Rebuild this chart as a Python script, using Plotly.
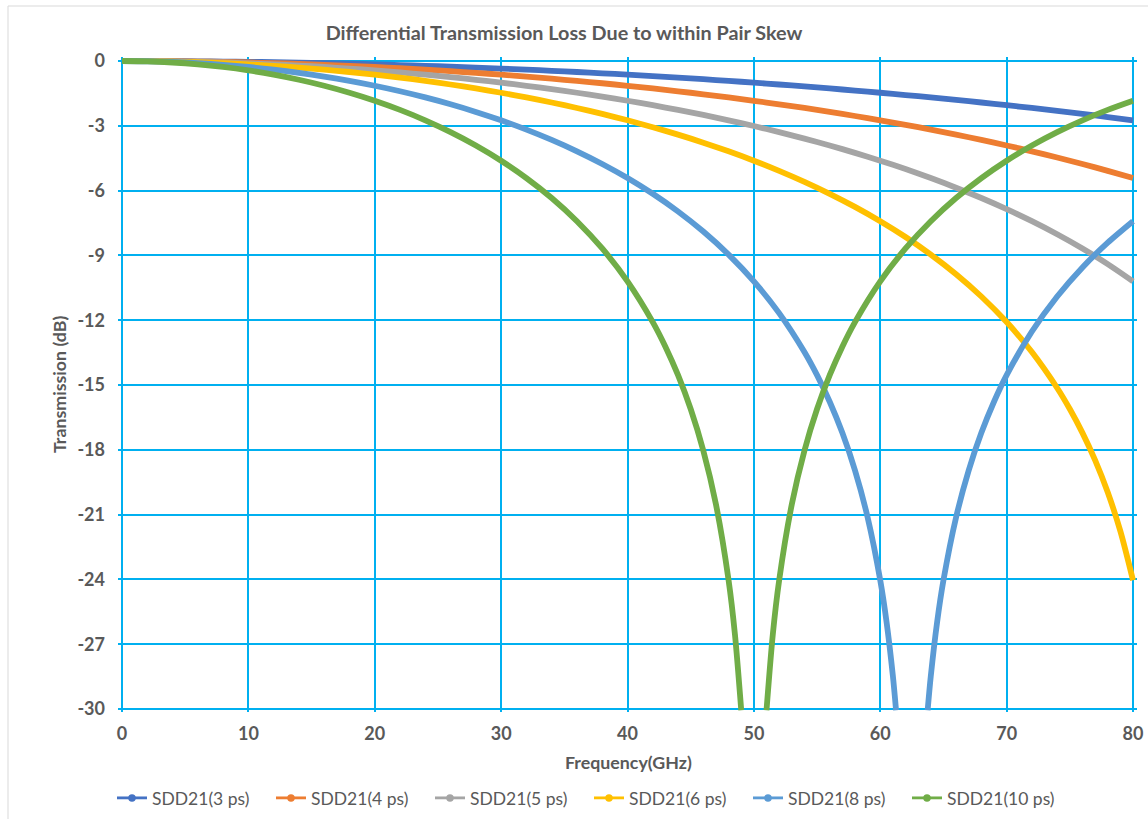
import plotly.graph_objects as go

# ---------------- data ----------------
FREQ = [0, 2, 4, 6, 8, 10, 12, 14, 16, 18, 20, 22, 24, 26, 28, 30, 32, 34, 36, 38, 40,
        42, 44, 46, 48, 50, 52, 54, 56, 58, 60, 62, 64, 66, 68, 70, 72, 74, 76, 78, 80]

SDD21_3PS = [0, -0.0015, -0.0062, -0.0139, -0.0247, -0.0386, -0.0557, -0.0758, -0.0991, -0.1256,
             -0.1552, -0.1881, -0.2241, -0.2634, -0.3060, -0.3519, -0.4012, -0.4538, -0.5099, -0.5694,
             -0.6324, -0.6990, -0.7693, -0.8432, -0.9209, -1.0024, -1.0878, -1.1771, -1.2705, -1.3680,
             -1.4698, -1.5759, -1.6864, -1.8015, -1.9212, -2.0457, -2.1752, -2.3098, -2.4497, -2.5949,
             -2.7458]

SDD21_4PS = [0, -0.0027, -0.0110, -0.0247, -0.0440, -0.0688, -0.0991, -0.1351, -0.1768, -0.2241,
             -0.2773, -0.3362, -0.4012, -0.4721, -0.5491, -0.6324, -0.7221, -0.8182, -0.9209, -1.0304,
             -1.1469, -1.2705, -1.4015, -1.5400, -1.6864, -1.8409, -2.0037, -2.1752, -2.3559, -2.5459,
             -2.7458, -2.9561, -3.1772, -3.4096, -3.6541, -3.9114, -4.1822, -4.4673, -4.7679, -5.0848,
             -5.4195]

SDD21_5PS = [0, -0.0043, -0.0172, -0.0386, -0.0688, -0.1076, -0.1552, -0.2117, -0.2773, -0.3519,
             -0.4359, -0.5293, -0.6324, -0.7455, -0.8687, -1.0024, -1.1469, -1.3025, -1.4698, -1.6490,
             -1.8409, -2.0457, -2.2644, -2.4975, -2.7458, -3.0103, -3.2919, -3.5919, -3.9114, -4.2521,
             -4.6156, -5.0040, -5.4195, -5.8649, -6.3435, -6.8590, -7.4163, -8.0210, -8.6801, -9.4027,
             -10.2003]

FREQ_6PS = [0, 2, 4, 6, 8, 10, 12, 14, 16, 18, 20, 22, 24, 26, 28, 30, 32, 34, 36, 38, 40,
            42, 44, 46, 48, 50, 52, 54, 56, 58, 60, 62, 64, 66, 68, 70, 72, 74, 75, 76, 77, 78, 79, 80]
SDD21_6PS = [0, -0.0062, -0.0247, -0.0557, -0.0991, -0.1552, -0.2241, -0.3060, -0.4012, -0.5099,
             -0.6324, -0.7693, -0.9209, -1.0878, -1.2705, -1.4698, -1.6864, -1.9212, -2.1752, -2.4497,
             -2.7458, -3.0652, -3.4096, -3.7811, -4.1822, -4.6156, -5.0848, -5.5939, -6.1479, -6.7527,
             -7.4163, -8.1481, -8.9609, -9.8714, -10.9025, -12.0868, -13.4730, -15.1381, -16.1134,
             -17.2157, -18.4819, -19.9687, -21.7670, -24.0420]

FREQ_8PS = [0, 2, 4, 6, 8, 10, 12, 14, 16, 18, 20, 22, 24, 26, 28, 30, 32, 34, 36, 38, 40,
            42, 44, 46, 48, 50, 52, 54, 55, 56, 57, 58, 59, 60, 60.5, 61, 61.25, 62.5,
            63.75, 64, 64.5, 65, 66, 67, 68, 69, 70, 72, 74, 76, 78, 80]
SDD21_8PS = [0, -0.0110, -0.0440, -0.0991, -0.1768, -0.2773, -0.4012, -0.5491, -0.7221, -0.9209,
             -1.1469, -1.4015, -1.6864, -2.0037, -2.3559, -2.7458, -3.1772, -3.6541, -4.1822, -4.7679,
             -5.4195, -6.1479, -6.9670, -7.8959, -8.9609, -10.2003, -11.6725, -13.4730, -14.5455,
             -15.7756, -17.2157, -18.9494, -21.1248, -24.0420, -25.9779, -28.4753, -30.058, None,
             -30.058, -28.4753, -25.9779, -24.0420, -21.1248, -18.9494, -17.2157, -15.7756, -14.5455,
             -12.5234, -10.9025, -9.5558, -8.4094, -7.4163]

FREQ_10PS = [0, 2, 4, 6, 8, 10, 12, 14, 16, 18, 20, 22, 24, 26, 28, 30, 32, 34, 36, 38, 40,
             42, 43, 44, 45, 46, 47, 48, 48.5, 49, 50, 51, 51.5, 52, 53, 54, 55, 56, 57, 58,
             60, 62, 64, 66, 68, 70, 72, 74, 76, 78, 80]
SDD21_10PS = [0, -0.0172, -0.0688, -0.1552, -0.2773, -0.4359, -0.6324, -0.8687, -1.1469, -1.4698,
              -1.8409, -2.2644, -2.7458, -3.2919, -3.9114, -4.6156, -5.4195, -6.3435, -7.4163, -8.6801,
              -10.2003, -12.0868, -13.2252, -14.5455, -16.1134, -18.0388, -20.5273, -24.0420, -26.5380,
              -30.058, None, -30.058, -26.5380, -24.0420, -20.5273, -18.0388, -16.1134, -14.5455,
              -13.2252, -12.0868, -10.2003, -8.6801, -7.4163, -6.3435, -5.4195, -4.6156, -3.9114,
              -3.2919, -2.7458, -2.2644, -1.8409]

SERIES_NAMES = ["SDD21(3 ps)", "SDD21(4 ps)", "SDD21(5 ps)", "SDD21(6 ps)", "SDD21(8 ps)", "SDD21(10 ps)"]
SERIES_X = [FREQ, FREQ, FREQ, FREQ_6PS, FREQ_8PS, FREQ_10PS]
SERIES_Y = [SDD21_3PS, SDD21_4PS, SDD21_5PS, SDD21_6PS, SDD21_8PS, SDD21_10PS]
COLORS = ["#4472C4", "#ED7D31", "#A5A5A5", "#FFC000", "#5B9BD5", "#70AD47"]

X_TICKS = [0, 10, 20, 30, 40, 50, 60, 70, 80]
Y_TICKS = [0, -3, -6, -9, -12, -15, -18, -21, -24, -27, -30]

TITLE = "Differential Transmission Loss Due to within Pair Skew"
X_TITLE = "Frequency(GHz)"
Y_TITLE = "Transmission (dB)"

# ---------------- figure ----------------
W, H = 1148, 819
ML, MR, MT, MB = 118, 11, 57, 107
PW, PH = W - ML - MR, H - MT - MB
TEXT = "#595959"
GRID = "#00B0F0"
FONT = "Lato, 'Open Sans', sans-serif"


def px_x(p):
    return (p - ML) / PW


def px_y(p):
    return (H - MB - p) / PH


fig = go.Figure()

for name, xs, ys, c in zip(SERIES_NAMES, SERIES_X, SERIES_Y, COLORS):
    fig.add_trace(go.Scatter(
        x=xs, y=ys, mode="lines", name=name, showlegend=False, connectgaps=False,
        line=dict(color=c, width=5.8, shape="spline", smoothing=0.8),
        hoverinfo="x+y"))

for name, c in zip(SERIES_NAMES, COLORS):
    fig.add_trace(go.Scatter(
        x=[None], y=[None], mode="lines+markers", name=name,
        line=dict(color=c, width=2.8), marker=dict(color=c, size=7.5)))

axis_font = dict(family=FONT, size=18, color=TEXT, weight="bold")

fig.update_layout(
    width=W, height=H,
    margin=dict(l=ML, r=MR, t=MT, b=MB, autoexpand=False),
    paper_bgcolor="white", plot_bgcolor="white",
    font=dict(family=FONT, color=TEXT),
    title=dict(text="<b>" + TITLE + "</b>", x=564 / W, xref="container", xanchor="center",
               y=1 - 33 / H, yref="container", yanchor="middle",
               font=dict(family=FONT, size=19.8, color=TEXT)),
    xaxis=dict(range=[-4 / 12.6375, 80 + 4 / 12.6375], tickvals=X_TICKS,
               ticktext=[str(v) for v in X_TICKS], showgrid=True, gridcolor=GRID, gridwidth=1.5,
               zeroline=False, showline=False, ticks="", ticklabelstandoff=9, tickfont=axis_font),
    yaxis=dict(range=[-30 - 3 / 21.6, 4 / 21.6], tickvals=Y_TICKS,
               ticktext=[str(v) for v in Y_TICKS], showgrid=True, gridcolor=GRID, gridwidth=1.5,
               zeroline=False, showline=False, ticks="", ticklabelstandoff=12, tickfont=axis_font),
    legend=dict(orientation="h", x=px_x(112), xanchor="left", y=px_y(798), yanchor="middle",
                font=dict(family=FONT, size=17.5, color=TEXT), entrywidth=114, entrywidthmode="pixels",
                bgcolor="rgba(0,0,0,0)", tracegroupgap=0),
    showlegend=True,
    annotations=[
        dict(text="<b>" + Y_TITLE + "</b>", textangle=-90, x=px_x(59), y=px_y(385),
             xref="paper", yref="paper", showarrow=False, xanchor="center", yanchor="middle",
             font=dict(family=FONT, size=17.8, color=TEXT)),
        dict(text="<b>" + X_TITLE + "</b>", x=px_x(628), y=px_y(762),
             xref="paper", yref="paper", showarrow=False, xanchor="center", yanchor="middle",
             font=dict(family=FONT, size=17.8, color=TEXT)),
    ],
    shapes=[
        dict(type="rect", xref="paper", yref="paper", x0=px_x(8), x1=px_x(1190),
             y0=px_y(900), y1=px_y(6), line=dict(color="#D9D9D9", width=1), layer="below"),
    ],
)

fig.write_html("out.html")
